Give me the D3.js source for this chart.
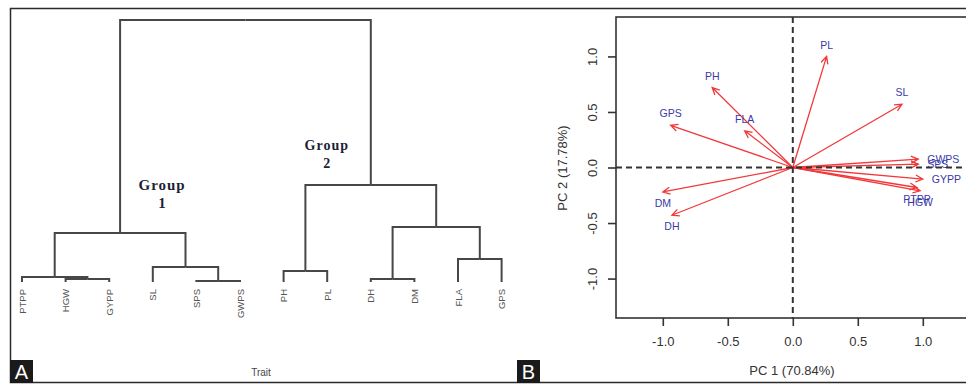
<!DOCTYPE html>
<html>
<head>
<meta charset="utf-8">
<script src="https://cdn.jsdelivr.net/npm/d3@7"></script>
<style>
    body { margin: 0; background: #fff; }
    svg { display: block; font-family: "Liberation Sans", Arial, sans-serif; }
</style>
</head>
<body>
<div id="chart"></div>
<script>
// ---- panel A: dendrogram of traits ----
const leafOrder = ["PTPP", "HGW", "GYPP", "SL", "SPS", "GWPS", "PH", "PL", "DH", "DM", "FLA", "GPS"];
// hclust style merges: a string is a trait, a number points at an earlier merge step (1-based)
const mergeLeft = ["SPS", "HGW", "DH", "PTPP", "PH", "SL", "FLA", 4, 3, 5, 8];
const mergeRight = ["GWPS", "GYPP", "DM", 2, "PL", 1, "GPS", 6, 7, 9, 10];
const mergeHeight = [0.04, 0.11, 0.11, 0.19, 0.42, 0.57, 0.88, 1.87, 2.10, 3.70, 10.0];
const groupSteps = [8, 10];
const groupNames = ["1", "2"];

// ---- panel B: PCA biplot loadings ----
const traits = ["PL", "SL", "PH", "GPS", "FLA", "DM", "DH", "GWPS", "SPS", "GYPP", "PTPP", "HGW"];
const pc1 = [0.26, 0.84, -0.62, -0.94, -0.37, -1.00, -0.93, 0.965, 0.965, 1.00, 0.955, 0.98];
const pc2 = [1.00, 0.57, 0.72, 0.38, 0.33, -0.22, -0.43, 0.075, 0.03, -0.105, -0.18, -0.21];
const pcTicks = [-1.0, -0.5, 0.0, 0.5, 1.0];
const pc1Title = "PC 1 (70.84%)";
const pc2Title = "PC 2 (17.78%)";

const W = 966, H = 384;

const svg = d3.select("#chart").append("svg")
    .attr("width", W)
    .attr("height", H);

svg.append("rect").attr("width", W).attr("height", H).attr("fill", "#fff");

drawDendrogram();
drawBiplot();
drawFrame();

function drawDendrogram() {
    let g = svg.append("g");

    function buildNode(ref) {
        if (typeof ref === "string") return { name: ref, height: 0 };
        let i = ref - 1;
        return {
            name: "m" + ref,
            height: mergeHeight[i],
            children: [buildNode(mergeLeft[i]), buildNode(mergeRight[i])]
        };
    }

    let root = d3.hierarchy(buildNode(mergeHeight.length));

    let x = d3.scalePoint().domain(leafOrder).range([22, 501.6]);
    let y = d3.scaleLinear().domain([0, d3.max(mergeHeight)]).range([282, 20]);

    root.eachAfter(d => {
        d.x = d.children ? d3.mean(d.children, c => c.x) : x(d.data.name);
        d.y = y(d.data.height);
    });

    // elbow links
    g.append("g")
        .selectAll("path")
        .data(root.links())
        .enter()
        .append("path")
        .attr("d", l => `M${l.target.x},${l.target.y}V${l.source.y}H${l.source.x}`)
        .attr("fill", "none")
        .attr("stroke", "#474747")
        .attr("stroke-width", 2);

    // leaf labels
    g.append("g")
        .selectAll("text")
        .data(root.leaves())
        .enter()
        .append("text")
        .attr("transform", d => `translate(${d.x + 3.5},289) rotate(-90)`)
        .attr("text-anchor", "end")
        .attr("font-size", 9.5)
        .attr("fill", "#555")
        .text(d => d.data.name);

    g.append("text")
        .attr("x", 261)
        .attr("y", 376)
        .attr("text-anchor", "middle")
        .attr("font-size", 10)
        .attr("fill", "#444")
        .text("Trait");

    // group annotations, placed beside their cluster node
    let offsets = [[42, -43, 15], [-44, -35, 14]];
    groupSteps.forEach((step, i) => {
        let node = root.descendants().find(d => d.data.name === "m" + step);
        let [dx, dy, fs] = offsets[i];
        let t = g.append("text")
            .attr("text-anchor", "middle")
            .attr("font-family", "'Liberation Serif', 'DejaVu Serif', serif")
            .attr("font-weight", "bold")
            .attr("font-size", fs)
            .attr("fill", "#1e1e36");
        t.append("tspan")
            .attr("x", node.x + dx)
            .attr("y", node.y + dy)
            .attr("letter-spacing", 1)
            .text("Group");
        t.append("tspan")
            .attr("x", node.x + dx)
            .attr("y", node.y + dy + 17.5)
            .text(groupNames[i]);
    });
}

function drawBiplot() {
    let g = svg.append("g");

    let x = d3.scaleLinear().domain([-1.36, 1.36]).range([616, 969.6]);
    let y = d3.scaleLinear().domain([-1.355, 1.355]).range([318, 17]);
    let fmt = d => d.toFixed(1);

    // plot box (right side runs off the image)
    g.append("rect")
        .attr("x", 616)
        .attr("y", 17)
        .attr("width", 380)
        .attr("height", 301)
        .attr("fill", "none")
        .attr("stroke", "#333")
        .attr("stroke-width", 1.6);

    let xAxis = g.append("g")
        .attr("transform", "translate(0,318)")
        .call(d3.axisBottom(x).tickValues(pcTicks).tickFormat(fmt).tickSize(8).tickSizeOuter(0).tickPadding(11));

    let yAxis = g.append("g")
        .attr("transform", "translate(616,0)")
        .call(d3.axisLeft(y).tickValues(pcTicks).tickFormat(fmt).tickSize(8).tickSizeOuter(0));

    [xAxis, yAxis].forEach(a => {
        a.select(".domain").remove();
        a.selectAll("line").attr("stroke", "#333").attr("stroke-width", 1.6);
        a.selectAll("text")
            .attr("font-size", 13)
            .attr("font-family", "'Liberation Sans', Arial, sans-serif")
            .attr("fill", "#333");
    });

    yAxis.selectAll("text")
        .attr("transform", "rotate(-90)")
        .attr("x", 0)
        .attr("y", -19)
        .attr("dy", 0)
        .attr("text-anchor", "middle");

    g.append("text")
        .attr("x", 792)
        .attr("y", 375)
        .attr("text-anchor", "middle")
        .attr("font-size", 13)
        .attr("fill", "#333")
        .text(pc1Title);

    g.append("text")
        .attr("transform", "translate(567,168) rotate(-90)")
        .attr("text-anchor", "middle")
        .attr("font-size", 13)
        .attr("fill", "#333")
        .text(pc2Title);

    let ox = x(0), oy = y(0);
    let loadings = traits.map((t, i) => ({ name: t, px: x(pc1[i]), py: y(pc2[i]), v: pc2[i] }));

    // arrows
    let arrows = g.append("g")
        .attr("stroke", "#f2383a")
        .attr("stroke-width", 1.3)
        .attr("fill", "none");

    arrows.selectAll("path")
        .data(loadings)
        .enter()
        .append("path")
        .attr("d", d => {
            let a = Math.atan2(d.py - oy, d.px - ox);
            let len = 8, spread = 0.45;
            let h1x = d.px - len * Math.cos(a - spread), h1y = d.py - len * Math.sin(a - spread);
            let h2x = d.px - len * Math.cos(a + spread), h2y = d.py - len * Math.sin(a + spread);
            return `M${ox},${oy}L${d.px},${d.py}M${h1x},${h1y}L${d.px},${d.py}L${h2x},${h2y}`;
        });

    // labels: above/below the tip, or to the right when the arrow is almost flat
    g.append("g")
        .selectAll("text")
        .data(loadings)
        .enter()
        .append("text")
        .attr("x", d => Math.abs(d.v) < 0.15 ? d.px + 9 : d.px)
        .attr("y", d => Math.abs(d.v) < 0.15 ? d.py : d.py + (d.v > 0 ? -11.5 : 11.5))
        .attr("dy", "0.35em")
        .attr("text-anchor", d => Math.abs(d.v) < 0.15 ? "start" : "middle")
        .attr("font-size", 10.5)
        .attr("fill", "#3a3aa6")
        .text(d => d.name);

    // reference lines through the origin
    let dash = g.append("g")
        .attr("stroke", "#333")
        .attr("stroke-width", 2)
        .attr("stroke-dasharray", "6,4");
    dash.append("line").attr("x1", ox).attr("x2", ox).attr("y1", 17).attr("y2", 318);
    dash.append("line").attr("x1", 616).attr("x2", W).attr("y1", oy).attr("y2", oy);
}

function drawFrame() {
    let f = svg.append("g")
        .attr("stroke", "#2a2a2a")
        .attr("stroke-width", 1.5)
        .attr("fill", "none");
    f.append("path").attr("d", `M${W},8.5H10.5V382.5H${W}`);

    [["A", 10], ["B", 517]].forEach(([label, lx]) => {
        svg.append("rect")
            .attr("x", lx)
            .attr("y", 360)
            .attr("width", 23)
            .attr("height", 23)
            .attr("fill", "#1a1a1a");
        svg.append("text")
            .attr("x", lx + 11.5)
            .attr("y", 379)
            .attr("text-anchor", "middle")
            .attr("font-size", 20)
            .attr("fill", "#fff")
            .text(label);
    });
}
</script>
</body>
</html>
